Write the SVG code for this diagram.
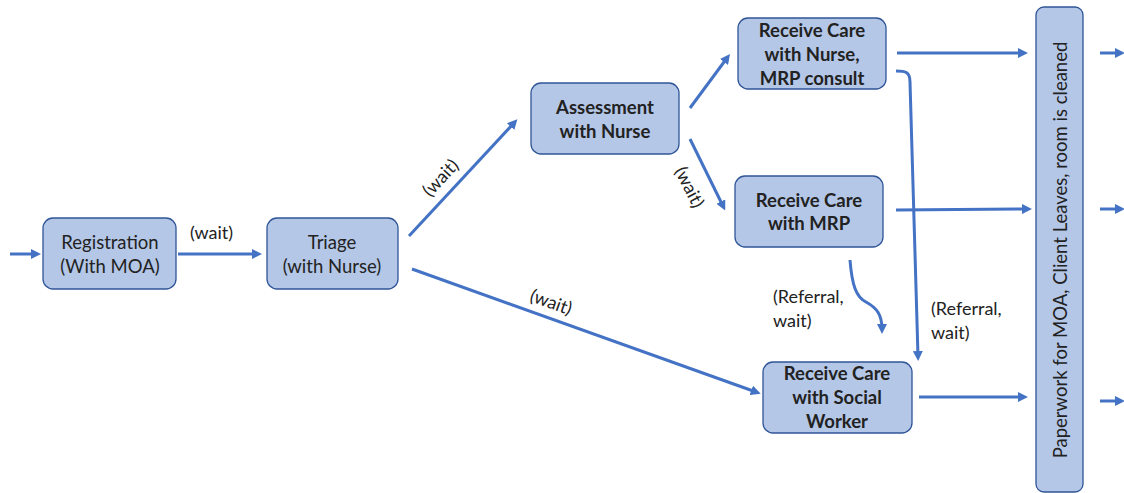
<svg xmlns="http://www.w3.org/2000/svg" width="1124" height="493" viewBox="0 0 1124 493">
<style>
.box{fill:#b4c7e7;stroke:#2f5597;stroke-width:1.3}
.t{font-family:Lato,"Open Sans",sans-serif;font-size:18.5px;fill:#222;text-anchor:middle}
.b{font-weight:bold}
.l{font-family:Lato,"Open Sans",sans-serif;font-size:18px;fill:#222}
.c{fill:none;stroke:#4472c4;stroke-width:3}
</style>
<defs>
<marker id="a" markerWidth="10" markerHeight="10" refX="5" refY="5" orient="auto" markerUnits="userSpaceOnUse" viewBox="0 0 10 10">
<path d="M0,0 L10,5 L0,10 Z" fill="#4472c4"/>
</marker>
</defs>
<g id="connectors">
<line class="c" x1="10" y1="254" x2="36" y2="254" marker-end="url(#a)"/>
<line class="c" x1="178" y1="254" x2="257" y2="254" marker-end="url(#a)"/>
<line class="c" x1="409" y1="236" x2="514" y2="123" marker-end="url(#a)"/>
<line class="c" x1="412" y1="269" x2="756" y2="392" marker-end="url(#a)"/>
<line class="c" x1="690" y1="108" x2="727" y2="58" marker-end="url(#a)"/>
<line class="c" x1="690" y1="139" x2="723" y2="206" marker-end="url(#a)"/>
<line class="c" x1="897" y1="53" x2="1023" y2="53" marker-end="url(#a)"/>
<line class="c" x1="896" y1="210" x2="1027" y2="209" marker-end="url(#a)"/>
<line class="c" x1="919" y1="397" x2="1023" y2="397" marker-end="url(#a)"/>
<path class="c" d="M896,71 C906,71 910,72 910,82 L918,356" marker-end="url(#a)"/>
<path class="c" d="M850,260 C852,285 856,297 866,302 C877,308 882,315 882,329" marker-end="url(#a)"/>
<line class="c" x1="1100" y1="53" x2="1120" y2="53" marker-end="url(#a)"/>
<line class="c" x1="1100" y1="209" x2="1120" y2="209" marker-end="url(#a)"/>
<line class="c" x1="1100" y1="401" x2="1120" y2="401" marker-end="url(#a)"/>
</g>
<g id="labels">
<text class="l" x="190" y="239">(wait)</text>
<text class="l" text-anchor="middle" transform="translate(445,182) rotate(-47)">(wait)</text>
<text class="l" text-anchor="middle" transform="translate(549,308) rotate(19.6)">(wait)</text>
<text class="l" text-anchor="middle" transform="translate(684,190) rotate(63)">(wait)</text>
<text class="l" x="773" y="303">(Referral,</text>
<text class="l" x="773" y="327">wait)</text>
<text class="l" x="931" y="315">(Referral,</text>
<text class="l" x="931" y="339">wait)</text>
</g>
<g id="registration">
<rect class="box" x="43" y="218" width="133" height="71" rx="10"/>
<text class="t" x="110" y="249">Registration</text>
<text class="t" x="110" y="273">(With MOA)</text>
</g>
<g id="triage">
<rect class="box" x="267" y="218" width="131" height="71" rx="10"/>
<text class="t" x="332" y="249">Triage</text>
<text class="t" x="332" y="273">(with Nurse)</text>
</g>
<g id="assessment">
<rect class="box" x="531" y="83" width="148" height="71" rx="10"/>
<text class="t b" x="605" y="114">Assessment</text>
<text class="t b" x="605" y="138">with Nurse</text>
</g>
<g id="care-nurse">
<rect class="box" x="738" y="18" width="148" height="71" rx="10"/>
<text class="t b" x="812" y="37">Receive Care</text>
<text class="t b" x="812" y="61">with Nurse,</text>
<text class="t b" x="812" y="85">MRP consult</text>
</g>
<g id="care-mrp">
<rect class="box" x="735" y="176" width="148" height="71" rx="10"/>
<text class="t b" x="809" y="207">Receive Care</text>
<text class="t b" x="809" y="230">with MRP</text>
</g>
<g id="care-social">
<rect class="box" x="763" y="362" width="149" height="71" rx="10"/>
<text class="t b" x="837" y="380">Receive Care</text>
<text class="t b" x="837" y="404">with Social</text>
<text class="t b" x="837" y="428">Worker</text>
</g>
<g id="paperwork">
<rect class="box" x="1036" y="7" width="47" height="485" rx="8"/>
<text class="t" transform="translate(1067,250) rotate(-90)">Paperwork for MOA, Client Leaves, room is cleaned</text>
</g>
</svg>
